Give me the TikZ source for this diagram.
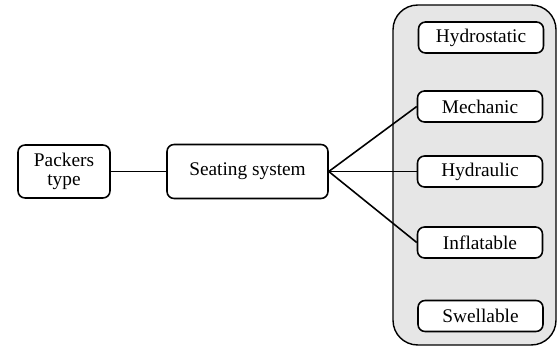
\documentclass[tikz,border=0pt]{standalone}
\usepackage{fontspec}
\setmainfont{Liberation Serif}
\usetikzlibrary{positioning}
\definecolor{panelgray}{RGB}{230,230,230}
\tikzset{
  box/.style={rectangle, draw=black, fill=white, align=center,
    font=\fontsize{11}{13}\selectfont, rounded corners=4pt, line width=0.9pt},
  typebox/.style={box, minimum width=2.5cm, minimum height=0.62cm},
  panel/.style={rectangle, draw=black, fill=panelgray, rounded corners=14pt,
    line width=0.8pt, minimum width=3.26cm, minimum height=6.8cm},
  link/.style={line width=0.9pt, color=black}
}
\begin{document}
\begin{tikzpicture}[x=0.02cm, y=-0.02cm]
  \useasboundingbox (0,0) rectangle (557,350);

  \node[panel] (group) at (474.5,175) {};

  \node[box, minimum width=1.84cm, minimum height=1.06cm] (packers) at (64,171.5) {Packers\\[-2pt]type};
  \node[box, minimum width=3.22cm, minimum height=1.08cm] (seating) at (247.5,171.5) {Seating system};

  \node[typebox] (hydrostatic) at (481,37.5) {Hydrostatic};
  \node[typebox] (mechanic) at (480,106.5) {Mechanic};
  \node[typebox] (hydraulic) at (480,171.5) {Hydraulic};
  \node[typebox] (inflatable) at (480,242.5) {Inflatable};
  \node[typebox] (swellable) at (480.5,316) {Swellable};

  % Connections
  \draw[link] (packers) -- (seating);
  \draw[link] (seating.east) -- (mechanic.west);
  \draw[link] (seating.east) -- (hydraulic.west);
  \draw[link] (seating.east) -- (inflatable.west);
\end{tikzpicture}
\end{document}
